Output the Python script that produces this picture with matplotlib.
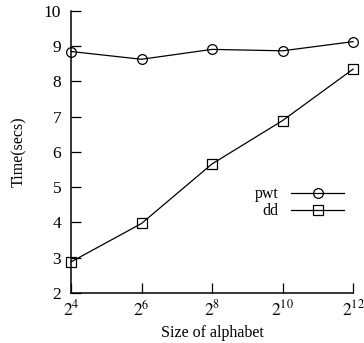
import matplotlib
matplotlib.use('Agg')
import matplotlib.pyplot as plt

plt.rcParams['font.family'] = ['Liberation Serif', 'DejaVu Serif']
plt.rcParams['mathtext.fontset'] = 'stix'

exponents = [4, 6, 8, 10, 12]
pwt = [8.85, 8.63, 8.91, 8.87, 9.13]
dd = [2.88, 3.97, 5.66, 6.89, 8.35]
xtick_labels = ['$2^{%d}$' % e for e in exponents]
yticks = [2, 3, 4, 5, 6, 7, 8, 9, 10]

fig = plt.figure(figsize=(3.64, 3.43), dpi=100)
ax = fig.add_axes([0.195, 0.146, 0.775, 0.822])

ax.plot(exponents, pwt, color='black', lw=0.9, marker='o', ms=7,
        mfc='none', mec='black', mew=0.9, label='pwt')
ax.plot(exponents, dd, color='black', lw=0.9, marker='s', ms=7,
        mfc='none', mec='black', mew=0.9, label='dd')

ax.set_xlim(4, 12)
ax.set_ylim(2, 10)
ax.set_xticks(exponents)
ax.set_xticklabels(xtick_labels, fontsize=15)
ax.set_yticks(yticks)
ax.tick_params(axis='both', direction='in', length=7, width=0.9, labelsize=12.5)
ax.tick_params(axis='x', pad=5)
ax.tick_params(axis='y', pad=7)

ax.spines['top'].set_visible(False)
ax.spines['right'].set_visible(False)
ax.spines['left'].set_linewidth(1.1)
ax.spines['bottom'].set_linewidth(1.1)
for s in ax.spines.values():
    s.set_clip_on(False)

ax.set_xlabel('Size of alphabet', fontsize=11.5, labelpad=4)
ax.set_ylabel('Time(secs)', fontsize=11.5, labelpad=12)

ax.legend(loc='center right', bbox_to_anchor=(0.968, 0.32), frameon=False,
          markerfirst=False, handlelength=3.3, handletextpad=0.8,
          labelspacing=0.05, fontsize=11.5, borderpad=0, borderaxespad=0)

for line in ax.lines:
    line.set_clip_on(False)

fig.savefig('out.png', dpi=100)
